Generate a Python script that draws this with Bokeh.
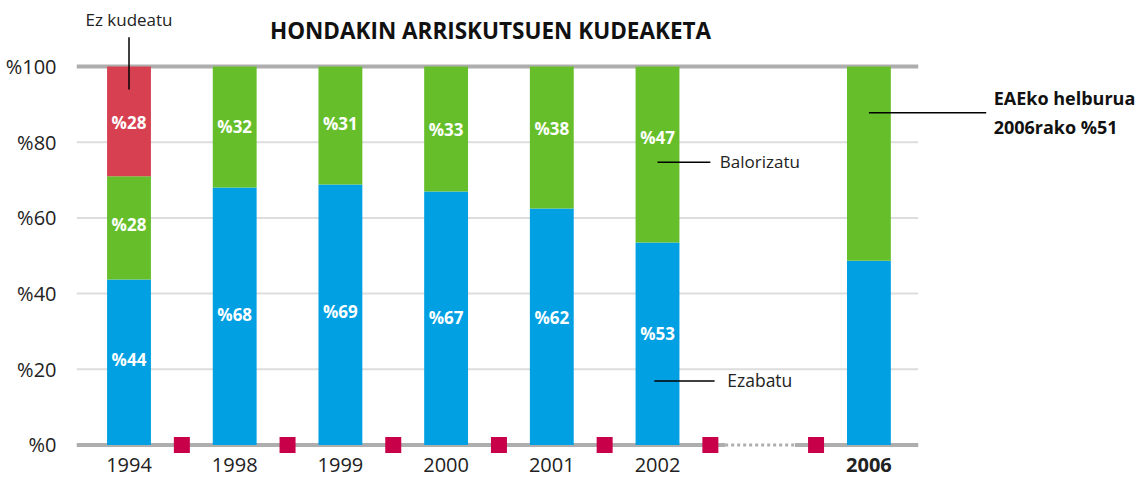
from bokeh.plotting import figure
from bokeh.models import ColumnDataSource, FixedTicker, Range1d
from bokeh.core.properties import value
from bokeh.embed import file_html
from bokeh.resources import INLINE

# ---- data ----
years = ["1994", "1998", "1999", "2000", "2001", "2002", "2006"]
slots = [0, 1, 2, 3, 4, 5, 7]          # 2006 sits after a gap
ezabatu = [43.7, 68.0, 68.8, 67.0, 62.5, 53.5, 48.7]
balorizatu = [27.3, 32.0, 31.2, 33.0, 37.5, 46.5, 51.3]
ez_kudeatu = [29.0, 0, 0, 0, 0, 0, 0]
ezabatu_lbl = ["%44", "%68", "%69", "%67", "%62", "%53", ""]
balorizatu_lbl = ["%28", "%32", "%31", "%33", "%38", "%47", ""]
ez_kudeatu_lbl = ["%28", "", "", "", "", "", ""]
y_ticks = [0, 20, 40, 60, 80, 100]
y_tick_lbl = ["%0", "%20", "%40", "%60", "%80", "%100"]
title = "HONDAKIN ARRISKUTSUEN KUDEAKETA"

# where the value labels sit (layout, in axis units)
ezabatu_lbl_pos = [22.6, 34.4, 35.3, 33.6, 33.8, 29.4, 0]
balorizatu_lbl_pos = [58.2, 84.1, 84.9, 83.4, 83.5, 81.2, 0]
ez_kudeatu_lbl_pos = [85.1, 0, 0, 0, 0, 0, 0]

BLUE = "#00A0E3"
GREEN = "#66BF2A"
RED = "#D64050"
MARK = "#C8004A"
FONT = "Open Sans"

top1 = ezabatu
top2 = [a + b for a, b in zip(ezabatu, balorizatu)]
top3 = [a + b + c for a, b, c in zip(ezabatu, balorizatu, ez_kudeatu)]

src = ColumnDataSource(dict(
    x=slots, years=years,
    b0=[0] * len(slots), t1=top1, t2=top2, t3=top3,
    m1=ezabatu_lbl_pos, m2=balorizatu_lbl_pos, m3=ez_kudeatu_lbl_pos,
    l1=ezabatu_lbl, l2=balorizatu_lbl, l3=ez_kudeatu_lbl,
))

p = figure(width=1139, height=477, output_backend="svg", toolbar_location=None,
           x_range=Range1d(-0.4967, 9.560), y_range=Range1d(-8.59, 117.44),
           min_border_left=76, min_border_right=0, min_border_top=0, min_border_bottom=0)
p.outline_line_color = None
p.xaxis.visible = False
p.xgrid.visible = False
p.ygrid.visible = False
p.yaxis.ticker = FixedTicker(ticks=y_ticks)
p.yaxis.major_label_overrides = {t: l for t, l in zip(y_ticks, y_tick_lbl)}
p.yaxis.axis_line_color = None
p.yaxis.major_tick_line_color = None
p.yaxis.minor_tick_line_color = None
p.yaxis.major_label_standoff = 14
p.yaxis.major_label_text_font = FONT
p.yaxis.major_label_text_font_size = "20px"
p.yaxis.major_label_text_color = "#222222"

x_left = -0.4967
x_right = 7.467
# light gridlines
for t in y_ticks[1:-1]:
    p.segment(x0=x_left, y0=t, x1=x_right, y1=t, line_color="#DDDDDD", line_width=2)
# top line
p.segment(x0=x_left, y0=100, x1=x_right, y1=100, line_color="#AEAEAE", line_width=4)
# baseline: solid, dotted gap, solid
p.segment(x0=x_left, y0=0, x1=5.64, y1=0, line_color="#AEAEAE", line_width=4)
p.segment(x0=5.64, y0=0, x1=6.3, y1=0, line_color="#AEAEAE", line_width=3, line_dash="3 3")
p.segment(x0=6.3, y0=0, x1=x_right, y1=0, line_color="#AEAEAE", line_width=4)

w = 0.415
p.vbar(x="x", bottom="b0", top="t1", width=w, source=src, fill_color=BLUE, line_color=None)
p.vbar(x="x", bottom="t1", top="t2", width=w, source=src, fill_color=GREEN, line_color=None)
p.vbar(x="x", bottom="t2", top="t3", width=w, source=src, fill_color=RED, line_color=None)

for col_y, col_l in (("m1", "l1"), ("m2", "l2"), ("m3", "l3")):
    p.text(x="x", y=col_y, text=col_l, source=src, text_color="white",
           text_font=value(FONT), text_font_style="bold", text_font_size="17px",
           text_align="center", text_baseline="middle")

# separator squares between categories
sq_x = [0.5, 1.5, 2.5, 3.5, 4.5, 5.5, 6.5]
p.rect(x=sq_x, y=[0] * len(sq_x), width=16, height=16, width_units="screen",
       height_units="screen", fill_color=MARK, line_color=None)

# x labels
xl_y = -5.4
p.text(x=slots[:-1], y=[xl_y] * (len(slots) - 1), text=years[:-1], text_color="#222222",
       text_font=value(FONT), text_font_size="20px", text_align="center", text_baseline="middle")
p.text(x=[slots[-1]], y=[xl_y], text=[years[-1]], text_color="#222222",
       text_font=value(FONT), text_font_style="bold", text_font_size="20px",
       text_align="center", text_baseline="middle")

# title
p.text(x=[3.42], y=[109.4], text=[title], text_color="#111111", text_font=value(FONT),
       text_font_style="bold", text_font_size="22.5px", text_align="center", text_baseline="middle")

# annotations
p.segment(x0=0, y0=93.9, x1=0, y1=107.7, line_color="black", line_width=1.5)
p.text(x=[0], y=[112.4], text=["Ez kudeatu"], text_color="#222222", text_font=value(FONT),
       text_font_size="17px", text_align="center", text_baseline="middle")

p.segment(x0=5.0, y0=74.7, x1=5.5, y1=74.7, line_color="black", line_width=1.5)
p.text(x=[5.59], y=[75.0], text=["Balorizatu"], text_color="#222222", text_font=value(FONT),
       text_font_size="17px", text_align="left", text_baseline="middle")

p.segment(x0=4.97, y0=16.9, x1=5.54, y1=16.9, line_color="black", line_width=1.5)
p.text(x=[5.66], y=[17.1], text=["Ezabatu"], text_color="#222222", text_font=value(FONT),
       text_font_size="17.5px", text_align="left", text_baseline="middle")

p.segment(x0=7.0, y0=87.8, x1=8.11, y1=87.8, line_color="black", line_width=1.5)
p.text(x=[8.18, 8.18], y=[91.6, 84.0], text=["EAEko helburua", "2006rako %51"],
       text_color="#111111", text_font=value(FONT), text_font_style="bold",
       text_font_size="18px", text_align="left", text_baseline="middle")

open("out.html", "w").write(file_html(p, INLINE))
